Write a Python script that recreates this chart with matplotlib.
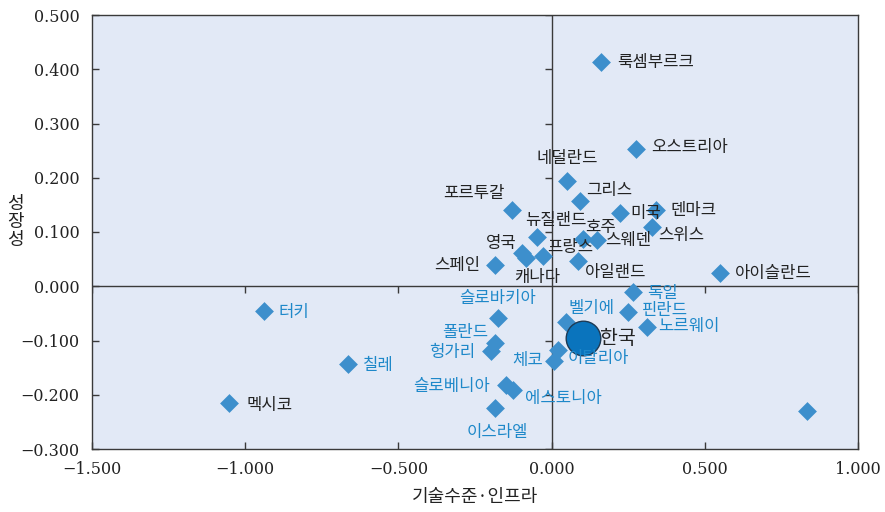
import matplotlib.pyplot as plt
from matplotlib.lines import TICKDOWN, TICKLEFT

# data
names = ['룩셈부르크', '오스트리아', '네덜란드', '그리스', '포르투갈', '미국', '덴마크', '스위스',
         '뉴질랜드', '호주', '스웨덴', '영국', '캐나다', '프랑스', '스페인', '아일랜드', '아이슬란드',
         '독일', '핀란드', '노르웨이', '벨기에', '이탈리아', '체코', '슬로바키아', '폴란드', '헝가리',
         '슬로베니아', '에스토니아', '이스라엘', '터키', '칠레', '멕시코', '']
tech = [0.161, 0.275, 0.050, 0.093, -0.129, 0.223, 0.341, 0.328,
        -0.048, 0.102, 0.148, -0.097, -0.083, -0.028, -0.185, 0.086, 0.550,
        0.266, 0.250, 0.311, 0.047, 0.021, 0.008, -0.175, -0.185, -0.198,
        -0.149, -0.126, -0.185, -0.938, -0.664, -1.053, 0.834]
growth = [0.413, 0.253, 0.194, 0.157, 0.140, 0.135, 0.140, 0.109,
          0.090, 0.088, 0.085, 0.061, 0.052, 0.055, 0.039, 0.046, 0.024,
          -0.011, -0.048, -0.076, -0.065, -0.118, -0.138, -0.059, -0.105, -0.120,
          -0.182, -0.192, -0.225, -0.046, -0.144, -0.216, -0.230]
blue_label = ['독일', '핀란드', '노르웨이', '벨기에', '이탈리아', '체코', '슬로바키아', '폴란드',
              '헝가리', '슬로베니아', '에스토니아', '이스라엘', '터키', '칠레']
korea = (0.103, -0.096)
xticks = [-1.5, -1.0, -0.5, 0.0, 0.5, 1.0]
yticks = [-0.3, -0.2, -0.1, 0.0, 0.1, 0.2, 0.3, 0.4, 0.5]

# label placement: offset in pixels + horizontal alignment
offsets = [(16, 0), (15, 1), (0, 23), (6, 11), (-7, 17), (10, 0), (14, 0), (6, -8),
           (-12, 17), (2, 11), (8, 0), (-5, 10), (11, -19), (4, 9), (-15, 0), (7, -11), (15, 0),
           (14, -1), (14, 2), (11, 1), (2, 13), (10, -8), (-11, 1), (0, 20), (-7, 11), (-16, -1),
           (-16, -2), (12, -8), (2, -24), (14, -1), (15, -1), (18, -2), (0, 0)]
aligns = ['left', 'left', 'center', 'left', 'right', 'left', 'left', 'left',
          'left', 'left', 'left', 'right', 'center', 'left', 'right', 'left', 'left',
          'left', 'left', 'left', 'left', 'left', 'right', 'center', 'right', 'right',
          'right', 'left', 'center', 'left', 'left', 'left', 'left']

kr = ['Noto Sans CJK KR', 'DejaVu Sans']
num = 'DejaVu Serif'

fig = plt.figure(figsize=(8.85, 5.12), dpi=100)
ax = fig.add_axes([92/885, 1-449/512, 766/885, 434/512])
ax.set_facecolor('#e2e9f6')
for s in ax.spines.values():
    s.set_color('#3a3a3a')
    s.set_linewidth(1.0)

ax.axhline(0, color='#3a3a3a', lw=1.0, zorder=1)
ax.axvline(0, color='#3a3a3a', lw=1.0, zorder=1)
ax.plot([t for t in xticks if t != 0], [0]*5, ls='none', marker=TICKDOWN, ms=5,
        color='#3a3a3a', mew=1.0, zorder=1)
ax.plot([0]*8, [t for t in yticks if t != 0], ls='none', marker=TICKLEFT, ms=5,
        color='#3a3a3a', mew=1.0, zorder=1)

ax.scatter(tech, growth, marker='D', s=92, color='#3d8fcc', linewidths=0, zorder=3)
ax.scatter([korea[0]], [korea[1]], s=620, color='#0a74bd', edgecolors='#1d3a55',
           linewidths=1.0, zorder=4)

for n, x, y, off, ha in zip(names, tech, growth, offsets, aligns):
    if not n:
        continue
    c = '#1e88c9' if n in blue_label else '#222222'
    ax.annotate(n, (x, y), xytext=off, textcoords='offset pixels', ha=ha, va='center',
                fontsize=12, color=c, family=kr, zorder=5)
ax.annotate('한국', korea, xytext=(17, 0), textcoords='offset pixels', ha='left', va='center',
            fontsize=14, color='#222222', family=kr, zorder=5)

ax.set_xlim(-1.5, 1.0)
ax.set_ylim(-0.3, 0.5)
ax.set_xticks(xticks)
ax.set_yticks(yticks)
ax.set_xticklabels(['\u2212%.3f' % -t if t < 0 else '%.3f' % t for t in xticks],
                   family=num, fontsize=11.5, color='#222222')
ax.set_yticklabels(['\u2212%.3f' % -t if t < 0 else '%.3f' % t for t in yticks],
                   family=num, fontsize=11.5, color='#222222')
ax.tick_params(direction='in', length=5, width=1.0, color='#3a3a3a', pad=9)

fig.text(15/885, 1-222/512, '성\n장\n성', ha='center', va='center', fontsize=13,
         family=kr, color='#222222', linespacing=1.0)
fig.text(475/885, 1-497/512, '기술수준·인프라', ha='center', va='center', fontsize=13,
         family=kr, color='#222222')

fig.savefig('out.png', dpi=100)
